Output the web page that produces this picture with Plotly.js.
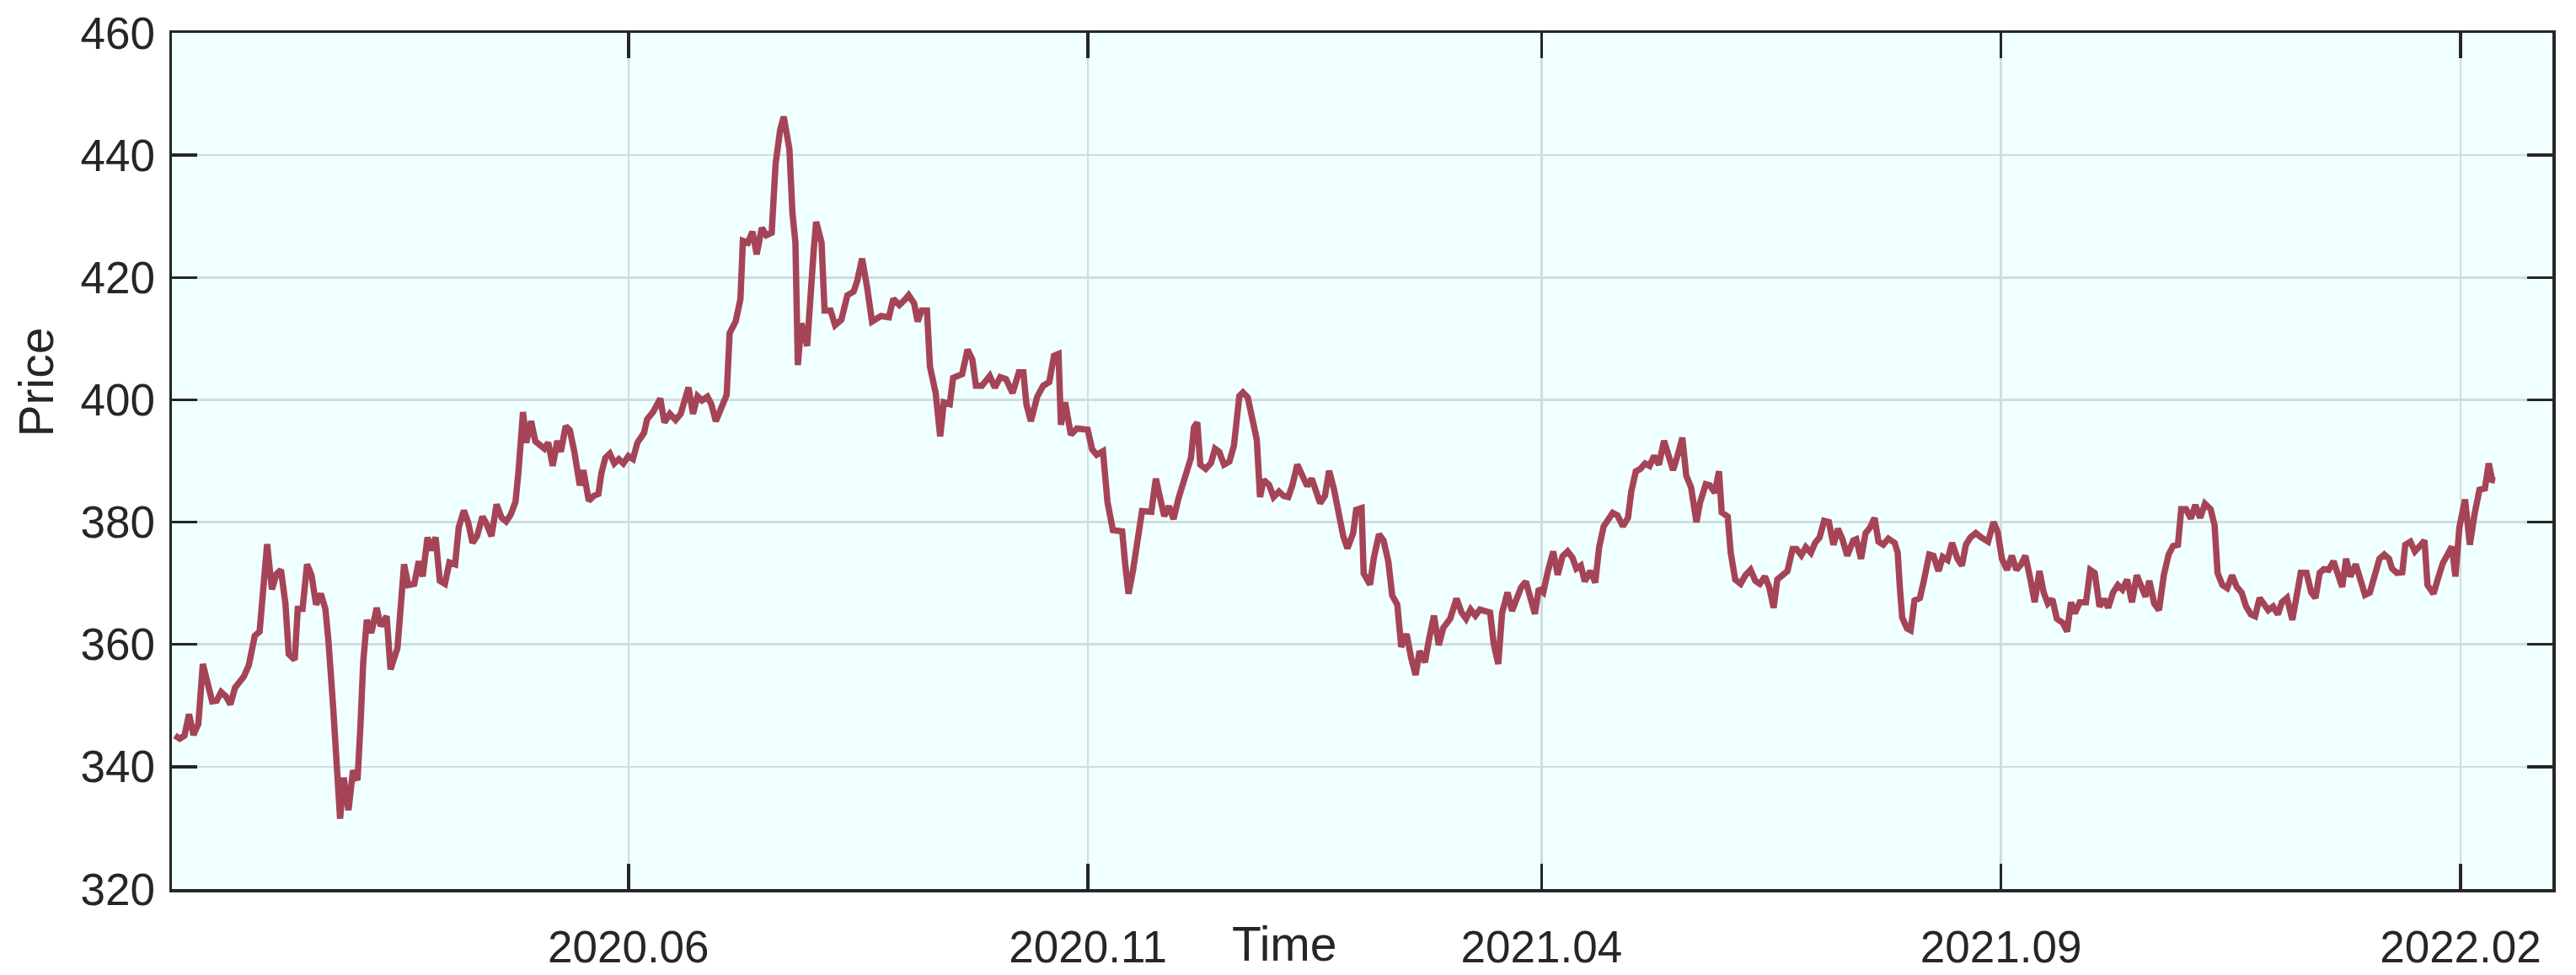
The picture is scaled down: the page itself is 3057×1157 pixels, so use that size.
<!DOCTYPE html>
<html>
<head>
<meta charset="utf-8">
<script src="https://cdn.plot.ly/plotly-3.0.1.min.js"></script>
<style>
  html, body { margin: 0; padding: 0; background: #ffffff; }
  #chart { width: 3057px; height: 1157px; }
</style>
</head>
<body>
<div id="chart"></div>
<script>
// Calendar days since 2020-01-01 for each observation
const dayOffsets = [
  1.0,2.6,4.2,5.7,7.2,8.8,10.3,11.8,13.4,14.9,16.4,18.0,19.5,21.0,22.5,24.0,25.6,26.6,27.6,29.2,
  30.2,31.7,33.3,34.8,36.3,37.8,38.9,40.9,41.9,43.5,45.0,46.5,48.0,49.6,51.1,52.1,53.7,55.2,56.0,57.2,
  58.8,60.3,61.8,62.8,63.7,64.9,66.4,68.2,69.5,71.5,72.8,75.1,76.3,77.3,78.7,80.7,82.2,83.5,85.1,86.3,
  87.8,89.2,90.9,92.4,94.3,95.5,97.2,98.6,100.1,101.6,103.4,104.7,106.4,108.1,109.8,111.3,112.8,114.4,115.4,
  116.9,118.0,119.6,121.0,122.5,124.0,125.3,126.8,128.3,129.5,131.1,132.5,134.0,135.8,137.0,138.8,140.5,142.0,
  143.0,144.3,145.8,147.3,148.8,150.3,152.0,153.5,155.0,
  157.2,158.2,160.2,162.6,164.0,165.8,167.7,169.4,172.0,173.5,175.0,176.5,178.3,179.6,181.1,182.6,184.7,185.7,
  187.7,189.3,190.1,191.8,193.3,194.7,196.4,197.9,199.7,201.0,202.5,203.7,205.6,206.6,207.6,208.4,209.6,211.5,
  212.7,213.7,214.5,216.3,217.3,219.3,220.8,222.9,224.9,227.0,228.2,229.8,231.5,233.1,236.1,238.7,240.2,242.2,
  244.3,245.3,247.1,248.3,249.6,251.4,252.4,254.3,255.8,257.0,259.0,260.1,263.1,264.9,266.5,267.7,269.7,272.3,
  274.0,275.8,277.7,279.9,282.0,283.5,284.5,286.0,288.1,290.1,292.1,293.7,295.2,296.0,297.4,299.3,301.3,304.9,
  306.4,307.9,310.0,311.5,313.3,
  316.4,317.4,318.5,320.0,321.5,323.0,326.1,327.6,329.1,330.4,332.0,333.5,335.1,336.8,339.3,340.3,341.4,342.4,
  344.2,346.0,347.3,348.7,350.3,352.1,353.6,355.4,356.6,358.2,359.9,361.2,362.3,363.5,365.3,366.8,368.6,370.1,
  371.7,373.1,374.7,376.5,378.0,379.5,380.8,382.3,383.9,385.3,386.9,388.7,390.0,391.4,393.3,394.3,396.1,396.8,
  398.9,400.2,401.9,403.4,405.0,406.3,408.0,409.3,411.1,412.6,414.1,415.4,417.2,418.7,420.2,421.8,423.3,425.6,
  427.7,429.4,430.9,432.4,434.0,435.5,437.0,438.9,440.1,441.6,442.9,444.7,446.2,447.7,449.2,450.8,452.3,453.8,
  455.1,456.6,458.2,459.9,461.4,463.0,464.7,466.3,467.6,469.1,470.4,
  472.3,473.9,475.2,476.7,478.2,479.7,481.3,483.1,484.8,485.9,487.4,488.9,490.5,492.0,493.5,495.1,496.8,498.4,
  499.8,501.5,502.9,504.2,505.8,507.6,508.8,510.7,512.1,513.7,515.1,516.0,518.0,519.0,520.5,522.3,523.9,525.6,
  527.2,528.7,530.4,531.8,533.3,534.5,536.2,537.9,539.6,540.9,542.5,544.0,545.7,547.1,548.6,550.1,551.7,553.2,
  554.7,556.2,557.8,559.8,560.8,562.4,563.9,565.4,566.9,568.2,569.8,571.5,573.6,574.6,575.3,576.1,577.7,578.9,
  580.2,582.0,583.3,585.1,586.5,588.2,589.6,591.2,592.7,594.5,596.0,597.3,598.8,600.6,602.4,604.7,606.5,607.9,
  609.3,611.0,612.6,614.1,615.7,617.1,618.8,620.2,621.8,623.2,624.6,626.1,627.6,
  629.6,631.0,632.3,633.6,635.2,637.3,638.7,640.2,641.8,643.3,644.7,646.3,647.9,649.4,651.0,652.6,654.2,655.8,
  657.1,658.4,660.0,661.6,663.2,664.8,666.3,667.9,669.0,670.6,672.2,673.7,675.3,676.9,678.8,680.1,681.1,682.7,
  684.3,685.9,687.5,689.1,690.6,692.2,693.6,695.1,696.4,698.0,699.6,701.2,702.5,704.2,706.0,707.5,708.8,710.7,
  712.3,713.7,715.1,716.5,718.1,719.7,721.3,722.6,723.9,725.3,727.1,728.7,730.2,731.8,733.4,735.0,736.6,738.2,
  739.2,740.8,742.6,743.6,745.3,746.8,748.5,750.0,751.0,753.0,754.5,756.1,757.7,759.1,760.3,761.6,763.5,765.1,
  766.7,768.3,770.1,771.4,772.5,773.5
];

const prices = [
  345.1,344.6,345.1,348.6,345.2,347.0,356.8,353.4,350.7,350.8,352.2,351.5,350.2,352.9,353.9,354.8,356.6,359.4,361.4,362.1,
  367.2,376.4,369.0,371.5,372.2,366.7,358.4,357.5,365.8,365.8,373.1,371.3,366.5,368.3,365.8,360.7,349.7,338.2,331.5,338.2,
  332.9,339.4,337.8,346.9,357.1,364.0,361.9,366.0,363.0,364.6,355.9,359.4,365.8,373.1,369.7,369.9,373.6,371.1,377.5,375.4,
  377.5,370.4,369.9,373.4,373.1,379.1,381.9,380.0,376.6,377.7,380.9,379.8,377.7,382.9,380.7,380.1,381.2,383.3,388.3,
  398.0,393.0,396.5,393.2,392.5,392.0,393.0,389.2,393.3,391.5,395.7,395.0,391.5,386.0,388.5,383.5,384.3,384.6,
  388.0,390.5,391.2,389.6,390.3,389.6,390.8,390.3,393.0,
  394.6,396.8,398.0,400.2,396.3,397.7,396.7,397.7,402.0,397.7,400.6,399.9,400.5,399.3,396.5,398.3,400.8,410.9,
  412.8,416.5,426.0,425.7,427.5,423.8,428.1,426.9,427.3,438.6,444.1,446.3,441.0,430.6,425.7,405.7,412.5,408.8,
  418.9,424.5,429.1,425.7,414.6,414.6,412.2,413.1,417.1,417.7,419.5,423.1,418.3,412.8,413.7,413.5,416.5,415.5,
  416.5,417.1,415.8,412.8,414.6,414.6,405.4,401.1,394.0,399.6,399.3,403.6,404.2,408.2,406.6,402.3,402.3,403.9,
  402.0,403.7,403.4,401.1,404.5,404.5,399.3,396.5,400.5,402.3,402.9,407.2,407.5,395.9,399.6,394.3,395.3,395.1,
  391.9,391.0,391.6,383.3,378.7,
  378.5,373.1,368.3,372.1,377.2,381.8,381.7,387.1,383.8,381.0,382.6,380.5,383.8,386.6,390.5,395.5,396.3,389.4,
  388.7,389.7,392.0,391.5,389.4,389.9,392.5,400.6,401.2,400.4,396.3,393.5,384.1,386.9,386.1,384.1,385.0,384.3,
  384.1,386.1,389.4,387.6,385.9,387.1,384.9,383.1,384.3,388.4,385.4,380.3,377.7,375.7,378.2,382.0,382.3,371.6,
  369.8,374.2,378.0,377.0,373.6,368.0,366.5,359.6,361.7,357.8,355.0,358.9,357.1,361.2,364.7,359.9,362.7,364.2,
  367.5,365.2,364.2,365.7,364.7,365.7,365.5,365.2,360.1,356.8,365.2,368.5,365.5,367.8,369.3,370.3,367.5,365.0,
  369.1,368.5,372.1,375.2,371.4,374.4,375.2,374.2,372.4,372.9,370.3,
  372.0,370.1,375.9,379.3,380.2,381.5,381.1,379.3,380.7,385.0,388.3,388.7,389.6,389.2,390.8,389.4,393.3,390.8,
  388.5,391.2,393.8,387.6,385.7,380.0,383.2,386.2,386.0,384.8,388.3,381.6,380.9,375.0,370.6,369.9,371.3,372.2,
  370.4,369.9,371.1,369.4,366.0,370.6,371.3,372.0,375.6,375.6,374.6,375.9,375.0,376.6,377.5,380.2,380.0,376.3,
  378.9,377.2,374.5,377.0,377.2,374.0,378.2,379.1,380.7,376.8,376.3,377.3,376.6,375.0,369.4,364.4,362.6,362.3,
  367.2,367.6,370.4,374.7,374.5,372.0,374.3,373.8,376.6,374.0,372.9,376.3,377.5,378.2,377.5,376.8,380.0,378.4,
  374.0,372.2,374.5,372.2,373.1,374.5,370.6,366.9,372.0,368.5,366.7,367.4,364.2,
  363.5,362.1,366.9,365.1,366.9,366.9,372.2,371.7,366.2,367.4,366.0,368.5,369.7,369.0,370.6,366.9,371.3,369.4,
  367.8,370.4,366.7,365.6,371.3,374.7,376.1,376.3,382.1,382.1,380.6,382.8,380.7,383.0,382.1,379.5,371.7,369.7,
  369.2,371.3,369.4,368.5,366.2,364.9,364.6,367.6,366.7,365.6,366.2,364.9,366.9,367.6,364.0,368.1,371.7,371.7,
  368.5,367.6,371.7,372.3,372.2,373.6,371.3,369.4,374.0,371.1,373.1,370.4,368.1,368.5,371.7,374.0,374.7,374.0,
  372.4,371.7,371.8,376.3,376.8,375.2,376.1,377.0,369.7,368.3,370.8,373.3,374.7,376.0,371.1,379.1,383.7,376.3,
  381.4,385.3,385.5,389.6,386.9,386.8
];

const xTickVals = ['2020-06-01', '2020-11-01', '2021-04-01', '2021-09-01', '2022-02-01'];
const xTickText = ['2020.06', '2020.11', '2021.04', '2021.09', '2022.02'];
const yTickVals = [320, 340, 360, 380, 400, 420, 440, 460];
const yTickText = ['320', '340', '360', '380', '400', '420', '440', '460'];
const xTitle = 'Time';
const yTitle = 'Price';

const base = Date.UTC(2020, 0, 1);
function dayToDate(d) {
  const t = new Date(base + d * 86400000);
  return t.toISOString().slice(0, 16).replace('T', ' ');
}
const dates = dayOffsets.map(dayToDate);

const axisColor = '#262626';
const gridColor = 'rgb(206,221,221)';
const fontFam = '"Liberation Sans", Arial, Helvetica, sans-serif';

const trace = {
  type: 'scatter',
  mode: 'lines',
  x: dates,
  y: prices,
  line: { color: '#a64457', width: 7.5 },
  hoverinfo: 'skip'
};

const layout = {
  width: 3057,
  height: 1157,
  margin: { l: 204, r: 28, t: 39, b: 102, pad: 0 },
  paper_bgcolor: '#ffffff',
  plot_bgcolor: '#f0ffff',
  showlegend: false,
  font: { family: fontFam, size: 52, color: axisColor },
  xaxis: {
    type: 'date',
    range: ['2020-01-01', '2022-03-03 14:00'],
    tickmode: 'array',
    tickvals: xTickVals,
    ticktext: xTickText,
    ticks: 'inside',
    ticklen: 30,
    tickwidth: 3.5,
    tickcolor: axisColor,
    showline: true,
    linecolor: axisColor,
    linewidth: 3.5,
    mirror: 'ticks',
    showgrid: true,
    gridcolor: gridColor,
    gridwidth: 2.5,
    zeroline: false,
    tickfont: { family: fontFam, size: 53, color: axisColor },
    ticklabelstandoff: 20
  },
  yaxis: {
    range: [320, 460],
    tickmode: 'array',
    tickvals: yTickVals,
    ticktext: yTickText,
    ticks: 'inside',
    ticklen: 30,
    tickwidth: 3.5,
    tickcolor: axisColor,
    showline: true,
    linecolor: axisColor,
    linewidth: 3.5,
    mirror: 'ticks',
    showgrid: true,
    gridcolor: gridColor,
    gridwidth: 2.5,
    zeroline: false,
    tickfont: { family: fontFam, size: 53, color: axisColor },
    ticklabelstandoff: 6
  },
  annotations: [
    {
      text: xTitle,
      xref: 'paper', yref: 'paper',
      x: 0.4673, y: -0.064,
      xanchor: 'center', yanchor: 'middle',
      showarrow: false,
      font: { family: fontFam, size: 57, color: axisColor }
    },
    {
      text: yTitle,
      xref: 'paper', yref: 'paper',
      x: -0.057, y: 0.592,
      xanchor: 'center', yanchor: 'middle',
      textangle: -90,
      showarrow: false,
      font: { family: fontFam, size: 57, color: axisColor }
    }
  ]
};

Plotly.newPlot('chart', [trace], layout, { staticPlot: true, displayModeBar: false });
</script>
</body>
</html>
